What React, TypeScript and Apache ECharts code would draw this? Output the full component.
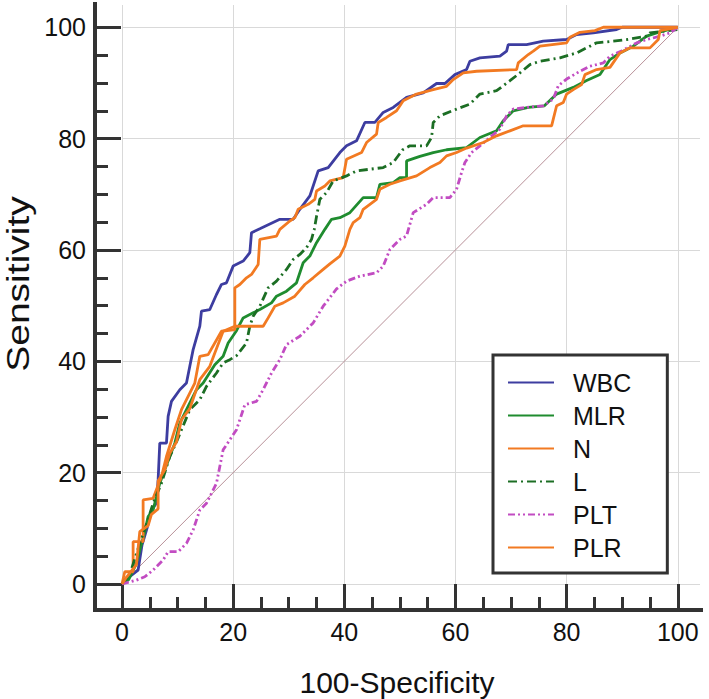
import React, { useEffect, useRef } from "react";
import * as echarts from "echarts";

const majorTicks = [0, 20, 40, 60, 80, 100];
const minorTicks = [5, 10, 15, 25, 30, 35, 45, 50, 55, 65, 70, 75, 85, 90, 95];
const seriesNames = ["WBC", "MLR", "N", "L", "PLT", "PLR"];

const wbc = [
  [0, 0], [1.2, 1.2], [2.9, 2.5], [3.6, 7], [4.5, 10], [5.3, 13.3], [6.2, 14.5], [6.5, 18.7], [6.8, 25.3],
  [8.0, 25.3], [8.3, 30.1], [8.9, 32.8], [10.4, 34.9], [11.6, 36.1], [12.2, 39.1], [12.8, 42.1], [14.0, 46.3],
  [14.3, 49.0], [15.8, 49.3], [17.0, 52.0], [17.9, 53.8], [18.8, 54.1], [20.0, 57.1], [21.8, 58.0], [23.0, 59.5],
  [23.3, 63.1], [24.8, 63.8], [28.4, 65.5], [30.8, 65.5], [32.0, 67.3], [33.8, 69.7], [35.3, 74.2], [37.1, 74.8],
  [39.2, 77.5], [40.4, 78.7], [42.2, 79.6], [43.7, 82.9], [45.5, 82.9], [47.0, 84.7], [48.8, 85.6], [51.2, 87.4],
  [54.2, 88.2], [56.6, 89.9], [58.1, 89.9], [59.9, 91.5], [62.0, 92.4], [62.6, 93.9], [64.4, 94.5], [68.0, 94.8],
  [69.2, 95.7], [69.5, 96.9], [72.8, 96.9], [75.8, 97.5], [80.0, 97.8], [81.8, 98.7], [84.8, 99.0], [89.0, 99.6],
  [90.0, 100], [100, 100],
];

const mlr = [
  [0, 0], [1.2, 0.8], [2.6, 3.7], [3.2, 6.1], [4.0, 9.0], [4.7, 12.1], [5.6, 13.3], [6.8, 18.1], [7.7, 20.5],
  [8.6, 22.9], [9.5, 25.3], [10.4, 28.9], [11.6, 31.3], [13.4, 34.9], [14.6, 36.1], [16.7, 39.4], [18.2, 40.9],
  [19.1, 43.3], [20.6, 45.5], [21.8, 47.8], [23.6, 48.7], [24.8, 49.3], [26.9, 50.5], [27.8, 51.7], [29.6, 52.6],
  [31.4, 54.1], [32.6, 57.7], [33.8, 58.9], [35.0, 61.3], [36.5, 63.7], [37.7, 65.5], [39.2, 65.8], [41.0, 66.7],
  [43.4, 69.4], [45.8, 69.4], [46.4, 71.8], [48.8, 72.1], [50.0, 73.0], [51.2, 73.0], [51.2, 76.0], [53.6, 76.8],
  [56.0, 77.5], [58.4, 78.0], [62.0, 78.4], [64.4, 80.2], [67.4, 81.4], [68.6, 83.2], [70.4, 85.0], [73.1, 85.6],
  [76.0, 85.9], [78.2, 88.0], [81.2, 89.2], [83.5, 90.4], [86.0, 91.5], [87.8, 94.2], [89.6, 95.4], [92.0, 96.6],
  [94.4, 98.4], [96.2, 99.0], [100, 100],
];

const nCurve = [
  [0, 0], [0.5, 2.2], [2.0, 2.2], [2.0, 7.6], [3.8, 7.6], [3.8, 15.1], [5.6, 15.4], [7.1, 19.3], [8.0, 22.9],
  [9.5, 27.7], [10.7, 31.3], [13.1, 36.1], [14.0, 40.9], [15.5, 41.2], [17.9, 45.4], [20.3, 45.7], [20.3, 53.2],
  [21.2, 53.8], [22.4, 55.0], [23.3, 55.6], [24.5, 57.4], [24.8, 61.9], [27.8, 62.5], [28.4, 63.7], [30.2, 65.2],
  [31.1, 65.8], [31.7, 67.3], [33.5, 68.2], [34.7, 69.1], [35.0, 70.6], [36.5, 71.5], [37.4, 72.4], [39.8, 73.0],
  [40.4, 76.3], [43.1, 77.5], [44.0, 79.3], [45.8, 80.8], [46.1, 82.9], [47.6, 83.8], [49.4, 85.0], [50.6, 86.8],
  [53.0, 88.0], [56.0, 88.8], [58.4, 89.4], [59.6, 90.6], [61.4, 91.8], [63.8, 92.1], [71.0, 92.4], [71.3, 93.6],
  [73.1, 95.1], [74.0, 95.7], [75.2, 96.6], [80.0, 97.2], [80.6, 98.2], [82.4, 99.1], [85.1, 99.4], [86.6, 100],
  [100, 100],
];

const lCurve = [
  [0, 0], [1.5, 2.0], [3.2, 7.3], [4.5, 11.0], [5.6, 14.5], [7.1, 18.1], [8.6, 22.9], [9.8, 25.5], [10.7, 27.7],
  [12.2, 31.3], [14.0, 33.1], [15.2, 35.5], [17.0, 37.9], [18.2, 39.7], [19.4, 40.3], [20.6, 41.0], [22.4, 43.3],
  [23.0, 46.3], [23.6, 48.1], [24.8, 49.9], [26.3, 53.2], [27.8, 54.4], [29.6, 56.5], [30.8, 58.3], [32.0, 59.2],
  [33.2, 60.4], [34.1, 61.9], [34.6, 63.7], [35.0, 66.0], [35.6, 69.1], [36.8, 70.3], [38.0, 72.4], [40.4, 73.3],
  [42.2, 74.2], [47.0, 74.8], [48.8, 75.7], [50.5, 78.0], [51.8, 78.7], [54.8, 78.7], [55.7, 80.2], [56.0, 82.9],
  [57.2, 84.1], [60.2, 85.3], [62.6, 86.2], [64.4, 88.0], [67.4, 88.6], [69.8, 90.4], [71.6, 91.8], [73.4, 93.3],
  [75.2, 93.9], [78.8, 94.5], [81.8, 95.4], [85.4, 97.2], [88.4, 97.5], [90.8, 97.8], [94.4, 98.4], [95.0, 99.0],
  [100, 99.6], [100, 100],
];

const plt = [
  [0, 0], [2.6, 0.7], [4.1, 1.3], [5.6, 2.5], [7.4, 4.3], [8.3, 5.8], [10.1, 5.8], [11.6, 7.3], [12.8, 9.7],
  [14.0, 13.3], [15.2, 14.5], [16.1, 16.3], [17.0, 18.1], [18.2, 24.1], [19.4, 25.9], [20.6, 27.7], [22.1, 32.2],
  [24.2, 32.8], [25.4, 34.9], [26.9, 37.9], [28.4, 40.3], [29.6, 43.0], [32.0, 44.5], [34.4, 46.9], [36.2, 49.9],
  [38.6, 53.0], [40.4, 54.4], [42.8, 55.3], [45.8, 55.9], [47.0, 57.1], [48.2, 60.1], [50.0, 61.9], [51.2, 62.5],
  [52.4, 66.7], [54.8, 68.2], [56.0, 69.4], [59.0, 69.4], [60.2, 70.9], [61.1, 73.9], [61.7, 75.7], [62.9, 77.5],
  [64.4, 78.7], [66.2, 80.2], [68.0, 81.7], [69.2, 84.1], [70.4, 85.3], [72.8, 85.6], [75.8, 85.9], [77.6, 87.1],
  [78.5, 89.5], [80.0, 90.7], [82.4, 92.1], [84.2, 93.0], [86.6, 93.6], [87.8, 94.8], [90.0, 95.8], [92.6, 97.2],
  [94.4, 97.8], [96.5, 98.3], [98.6, 99.0], [100, 100],
];

const plr = [
  [0, 0], [0.8, 1.2], [2.6, 3.5], [3.2, 9.4], [4.7, 10.5], [5.3, 12.5], [6.5, 13.5], [6.5, 18.5], [7.7, 20.5],
  [8.6, 23.5], [9.8, 25.5], [10.7, 29.5], [12.2, 31.5], [14.0, 36.7], [15.8, 39.1], [16.7, 41.5], [18.2, 45.4],
  [20.3, 46.3], [25.4, 46.3], [26.3, 47.8], [27.5, 49.9], [29.0, 50.5], [31.1, 51.7], [32.9, 53.8], [34.4, 55.0],
  [36.2, 56.5], [37.4, 57.5], [39.2, 58.9], [40.1, 60.7], [41.0, 63.7], [41.6, 64.9], [42.8, 65.8], [43.4, 67.3],
  [45.8, 69.1], [46.4, 70.9], [48.2, 71.8], [50.0, 72.4], [53.0, 73.3], [55.4, 74.8], [57.2, 75.7], [58.4, 76.9],
  [60.2, 77.5], [62.0, 78.3], [65.0, 79.3], [67.4, 80.5], [69.8, 81.4], [72.2, 82.3], [77.3, 82.3], [77.6, 83.5],
  [78.2, 85.9], [79.4, 86.5], [80.0, 88.0], [81.2, 88.8], [82.7, 89.7], [83.3, 91.5], [85.4, 92.4], [87.8, 92.8],
  [89.6, 95.4], [91.4, 96.3], [95.0, 96.3], [96.5, 97.8], [96.8, 99.4], [100, 100],
];

const referenceLine = [
  [0, 0],
  [100, 100],
];

const FONT = "'Liberation Sans', Arial, Helvetica, sans-serif";

// layout (pixels)
const W = 709;
const H = 699;
const PLOT_LEFT = 122;
const PLOT_RIGHT = 9;
const PLOT_TOP = 5;
const PLOT_BOTTOM = 115;
const AXIS_X = 95; // y-axis line position
const AXIS_Y = 610; // x-axis line position
const AXIS_MAX = 104;

export default function App() {
  const ref = useRef<HTMLDivElement>(null);

  useEffect(() => {
    if (!ref.current) return;
    const chart = echarts.init(ref.current, null, { renderer: "svg" });

    const plotW = W - PLOT_LEFT - PLOT_RIGHT;
    const plotH = H - PLOT_TOP - PLOT_BOTTOM;
    const xMinOuter = -((PLOT_LEFT - AXIS_X) * AXIS_MAX) / plotW;
    const yMinOuter = -((AXIS_Y - (H - PLOT_BOTTOM)) * AXIS_MAX) / plotH;

    const tickLine = { color: "#333", width: 3 };
    const labelStyle = { fontSize: 25, color: "#111", margin: 9, fontFamily: FONT };

    const curves: Array<[string, number[][], string, any]> = [
      [seriesNames[0], wbc, "#3d3da0", "solid"],
      [seriesNames[1], mlr, "#1f8c2f", "solid"],
      [seriesNames[2], nCurve, "#f27a22", "solid"],
      [seriesNames[3], lCurve, "#1c6e24", [9, 4, 2, 4]],
      [seriesNames[4], plt, "#c24cc2", [7, 3, 2, 3, 2, 3]],
      [seriesNames[5], plr, "#f27a22", "solid"],
    ];

    const outerAxis = (dim: "x" | "y", len: number, ticks: number[], labels: boolean) => ({
      gridIndex: 1,
      type: "value",
      min: dim === "x" ? xMinOuter : yMinOuter,
      max: AXIS_MAX,
      position: dim === "x" ? "bottom" : "left",
      axisLine: { show: false, onZero: false },
      axisTick: { show: true, inside: true, length: len, customValues: ticks, lineStyle: tickLine },
      axisLabel: labels
        ? { show: true, customValues: ticks, formatter: (v: number) => String(v), ...labelStyle }
        : { show: false },
      splitLine: { show: false },
    });

    const innerAxis = (extra: any) => ({
      gridIndex: 0,
      type: "value",
      min: 0,
      max: AXIS_MAX,
      interval: 20,
      axisLine: { show: false, onZero: false },
      axisTick: { show: false, customValues: majorTicks },
      axisLabel: { show: false, customValues: majorTicks },
      splitLine: { show: true, lineStyle: { color: "#d9d9d9", width: 1 } },
      ...extra,
    });

    const option: any = {
      animation: false,
      backgroundColor: "#ffffff",
      textStyle: { fontFamily: FONT },
      grid: [
        { left: PLOT_LEFT, right: PLOT_RIGHT, top: PLOT_TOP, bottom: PLOT_BOTTOM, containLabel: false, outerBoundsMode: "none" },
        { left: AXIS_X, right: PLOT_RIGHT, top: PLOT_TOP, bottom: H - AXIS_Y, containLabel: false, outerBoundsMode: "none" },
      ],
      xAxis: [
        innerAxis({
          position: "bottom",
          name: "100-Specificity",
          nameLocation: "middle",
          nameGap: 83,
          nameTextStyle: { fontSize: 30, color: "#111", fontFamily: FONT, padding: [0, 28, 0, 0] },
        }),
        outerAxis("x", 26, majorTicks, true),
        outerAxis("x", 13, minorTicks, false),
      ],
      yAxis: [
        innerAxis({ position: "left" }),
        outerAxis("y", 26, majorTicks, true),
        outerAxis("y", 13, minorTicks, false),
      ],
      legend: {
        data: seriesNames,
        orient: "vertical",
        left: 493,
        top: 355,
        itemWidth: 46,
        itemHeight: 14,
        itemGap: 8,
        padding: [15, 36, 13, 14],
        borderColor: "#333",
        borderWidth: 3,
        backgroundColor: "#ffffff",
        itemStyle: { opacity: 0, color: "rgba(0,0,0,0)", borderWidth: 0 },
        textStyle: { fontSize: 25, lineHeight: 25, color: "#111", fontFamily: FONT, padding: [0, 0, 0, 14] },
      },
      graphic: [
        {
          type: "polyline",
          shape: { points: [[AXIS_X, 2], [AXIS_X, AXIS_Y], [703, AXIS_Y]] },
          style: { stroke: "#333", lineWidth: 4, fill: "none" },
          z: 100,
        },
        {
          type: "text",
          x: 18,
          y: 284,
          rotation: Math.PI / 2,
          scaleX: 1.22,
          style: {
            text: "Sensitivity",
            fontSize: 32,
            fontFamily: FONT,
            fill: "#111",
            align: "center",
            verticalAlign: "middle",
          },
          z: 100,
        },
      ],
      series: [
        {
          type: "line",
          data: referenceLine,
          symbol: "none",
          silent: true,
          lineStyle: { color: "#b89098", width: 1 },
          z: 1,
        },
        ...curves.map(([name, data, color, dash], i) => ({
          type: "line",
          name,
          data,
          symbol: "none",
          lineStyle: { color, width: 2.8, type: dash },
          itemStyle: { color },
          z: 2 + i,
        })),
      ],
    };

    chart.setOption(option);
    return () => chart.dispose();
  }, []);

  return (
    <div
      ref={ref}
      style={{ position: "absolute", left: 0, top: 0, width: W, height: H }}
    />
  );
}
